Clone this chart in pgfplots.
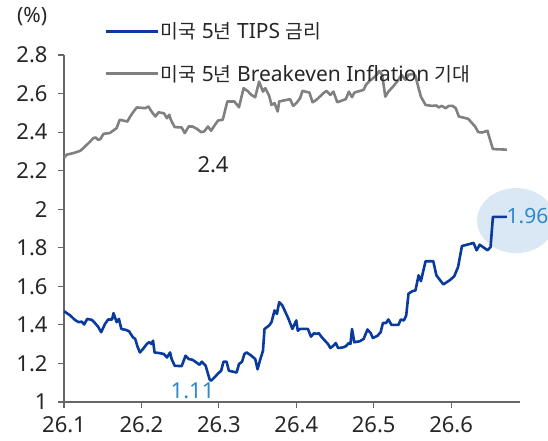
\documentclass[border=0pt]{standalone}
\usepackage{pgfplots}
\pgfplotsset{compat=1.18}
\usepackage{fontspec}
\setmainfont{Noto Sans}
\newfontfamily\kr{Noto Sans CJK KR}[Scale=0.92]
\definecolor{tipsblue}{HTML}{0A3A9C}
\definecolor{beigray}{HTML}{808080}
\definecolor{lbl}{HTML}{2E88CE}
\definecolor{ell}{HTML}{DAE8F5}
\definecolor{axc}{HTML}{666666}
\begin{document}
\begin{tikzpicture}
\useasboundingbox (-64bp,-39bp) rectangle (484bp,402bp);
\begin{axis}[
  scale only axis, width=456bp, height=347bp,
  xmin=26.1, xmax=26.689, ymin=1, ymax=2.8,
  axis x line=bottom, axis y line=left,
  axis line style={-, draw=axc, line width=1.2bp},
  tick style={draw=axc, line width=1.2bp},
  tick align=outside, major tick length=6bp,
  xtick={26.1,26.2,26.3,26.4,26.5,26.6},
  xticklabels={26.1,26.2,26.3,26.4,26.5,26.6},
  ytick={1,1.2,1.4,1.6,1.8,2,2.2,2.4,2.6,2.8},
  yticklabels={1,1.2,1.4,1.6,1.8,2,2.2,2.4,2.6,2.8},
  ticklabel style={font=\fontsize{22bp}{26bp}\selectfont, text=black!85},
  xticklabel style={yshift=-5bp},
  yticklabel style={xshift=-7bp},
  /pgf/number format/assume math mode=true,
  clip=false,
  legend cell align=left,
  legend style={draw=none, fill=none, at={(0.088,1.1)}, anchor=north west,
    font=\fontsize{21bp}{25bp}\selectfont, text=black!85, row sep=21bp, inner sep=0pt,
    /tikz/every even column/.append style={column sep=0bp}},
  legend image code/.code={\draw[#1] (0bp,0bp) -- (52bp,0bp);},
]
\fill[ell] (axis cs:26.684,1.941) ellipse [x radius=39bp, y radius=32.5bp];

\addplot[draw=tipsblue, line width=2.6bp, line join=round] coordinates {
(26.100,1.471) (26.108,1.449) (26.114,1.426) (26.119,1.414) (26.123,1.417) (26.126,1.402)
(26.130,1.431) (26.136,1.426) (26.139,1.414) (26.144,1.391) (26.148,1.362) (26.153,1.405)
(26.157,1.428) (26.162,1.428) (26.164,1.461) (26.168,1.414) (26.171,1.431) (26.174,1.379)
(26.180,1.374) (26.184,1.367) (26.189,1.336) (26.192,1.327) (26.195,1.287) (26.198,1.257)
(26.202,1.275) (26.207,1.301) (26.210,1.310) (26.213,1.301) (26.215,1.318) (26.217,1.257)
(26.223,1.254) (26.229,1.249) (26.233,1.231) (26.237,1.257) (26.239,1.223) (26.243,1.188)
(26.252,1.186) (26.257,1.240) (26.261,1.223) (26.266,1.219) (26.271,1.205) (26.275,1.193)
(26.278,1.209) (26.283,1.188) (26.288,1.118) (26.290,1.110) (26.295,1.130) (26.299,1.148)
(26.303,1.162) (26.306,1.209) (26.310,1.209) (26.313,1.162) (26.323,1.153) (26.326,1.197)
(26.330,1.209) (26.333,1.249) (26.336,1.257) (26.342,1.240) (26.347,1.223) (26.350,1.170)
(26.353,1.214) (26.357,1.266) (26.359,1.379) (26.365,1.397) (26.368,1.414) (26.372,1.475)
(26.375,1.457) (26.378,1.518) (26.382,1.501) (26.385,1.475) (26.390,1.431) (26.395,1.379)
(26.400,1.423) (26.402,1.370) (26.405,1.379) (26.415,1.379) (26.419,1.339) (26.423,1.357)
(26.426,1.353) (26.429,1.357) (26.433,1.336) (26.437,1.318) (26.441,1.301) (26.444,1.280)
(26.448,1.292) (26.451,1.306) (26.454,1.280) (26.460,1.283) (26.464,1.289) (26.468,1.306)
(26.470,1.301) (26.472,1.379) (26.475,1.310) (26.482,1.315) (26.487,1.327) (26.492,1.376)
(26.496,1.358) (26.499,1.332) (26.505,1.344) (26.509,1.362) (26.512,1.410) (26.516,1.410)
(26.519,1.428) (26.523,1.400) (26.532,1.400) (26.535,1.428) (26.539,1.423) (26.542,1.449)
(26.545,1.562) (26.550,1.575) (26.554,1.579) (26.558,1.657) (26.561,1.627) (26.567,1.730)
(26.577,1.730) (26.581,1.657) (26.590,1.610) (26.599,1.634) (26.604,1.652) (26.609,1.700)
(26.614,1.809) (26.629,1.825) (26.633,1.787) (26.637,1.816) (26.647,1.787) (26.651,1.804)
(26.654,1.960) (26.672,1.960)
};
\addlegendentry{{\kr 미국} 5{\kr 년} TIPS {\kr 금리}}

\addplot[draw=beigray, line width=2.6bp, line join=round] coordinates {
(26.100,2.266) (26.1035,2.283) (26.112,2.291) (26.121,2.303) (26.125,2.317) (26.134,2.352)
(26.138,2.369) (26.141,2.372) (26.144,2.360) (26.147,2.364) (26.151,2.391) (26.159,2.395)
(26.165,2.412) (26.168,2.421) (26.172,2.464) (26.182,2.455) (26.185,2.478) (26.190,2.507)
(26.194,2.528) (26.205,2.524) (26.209,2.533) (26.213,2.507) (26.218,2.481) (26.222,2.502)
(26.223,2.502) (26.229,2.498) (26.233,2.472) (26.236,2.490) (26.238,2.464) (26.243,2.426)
(26.252,2.424) (26.256,2.395) (26.261,2.429) (26.266,2.429) (26.272,2.416) (26.277,2.400)
(26.281,2.403) (26.286,2.429) (26.290,2.407) (26.295,2.438) (26.299,2.460) (26.305,2.464)
(26.311,2.559) (26.320,2.559) (26.326,2.529) (26.332,2.628) (26.338,2.610) (26.342,2.593)
(26.347,2.581) (26.352,2.662) (26.357,2.610) (26.360,2.628) (26.365,2.588) (26.368,2.541)
(26.372,2.550) (26.376,2.507) (26.378,2.559) (26.392,2.571) (26.396,2.536) (26.400,2.550)
(26.405,2.576) (26.408,2.614) (26.417,2.605) (26.421,2.555) (26.426,2.567) (26.435,2.602)
(26.439,2.614) (26.444,2.593) (26.448,2.610) (26.453,2.555) (26.464,2.571) (26.468,2.610)
(26.472,2.581) (26.475,2.605) (26.487,2.619) (26.490,2.645) (26.495,2.667) (26.499,2.679)
(26.504,2.697) (26.507,2.717) (26.511,2.697) (26.515,2.584) (26.519,2.610) (26.525,2.636)
(26.532,2.671) (26.536,2.697) (26.541,2.671) (26.545,2.697) (26.550,2.702) (26.554,2.691)
(26.558,2.628) (26.561,2.584) (26.567,2.541) (26.575,2.536) (26.581,2.538) (26.584,2.528)
(26.588,2.536) (26.593,2.524) (26.597,2.536) (26.602,2.536) (26.606,2.524) (26.610,2.481)
(26.622,2.469) (26.627,2.447) (26.631,2.429) (26.635,2.400) (26.640,2.398) (26.647,2.407)
(26.649,2.378) (26.654,2.312) (26.672,2.309)
};
\addlegendentry{{\kr 미국} 5{\kr 년} Breakeven Inflation {\kr 기대}}

\node[text=lbl, anchor=west, inner sep=0pt, font=\fontsize{21bp}{25bp}\selectfont] at (axis cs:26.6715,1.967) {1.96};
\node[text=lbl, inner sep=0pt, font=\fontsize{22bp}{26bp}\selectfont] at (axis cs:26.266,1.06) {1.11};
\node[text=black!85, inner sep=0pt, font=\fontsize{22bp}{26bp}\selectfont] at (axis cs:26.2925,2.233) {2.4};
\node[text=black!85, inner sep=0pt, font=\fontsize{21bp}{25bp}\selectfont] at (axis description cs:-0.070,1.112) {(\%)};
\end{axis}
\end{tikzpicture}
\end{document}
